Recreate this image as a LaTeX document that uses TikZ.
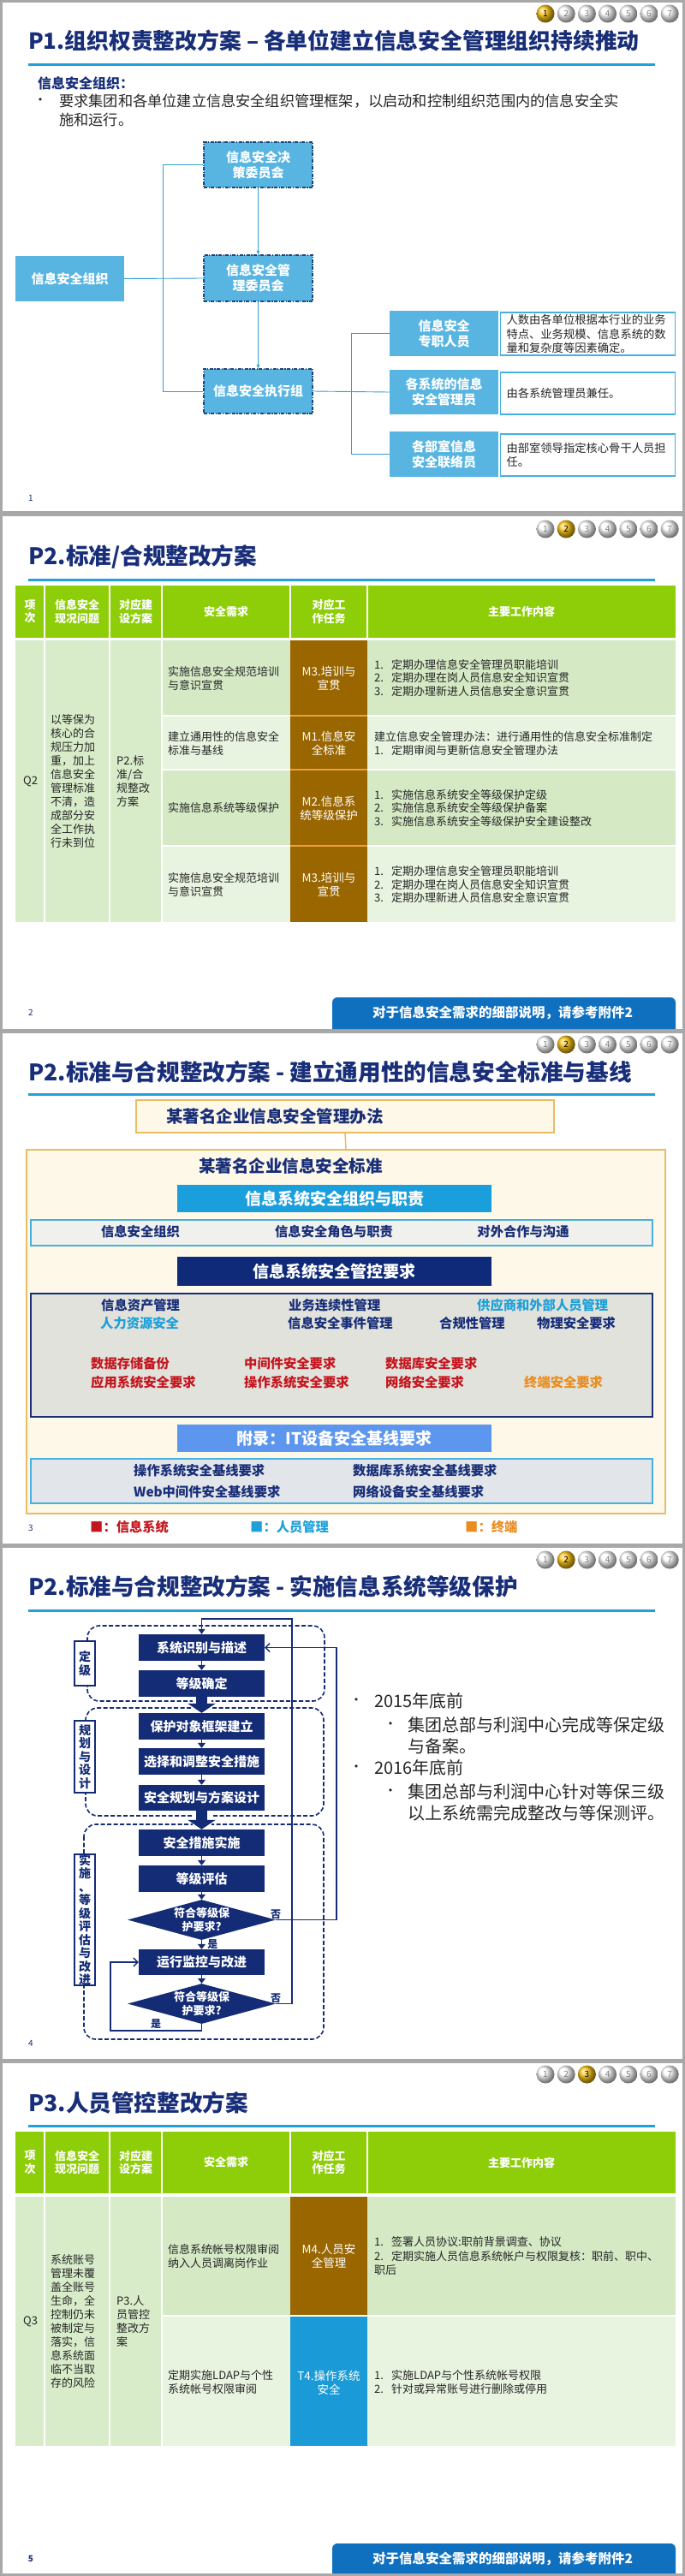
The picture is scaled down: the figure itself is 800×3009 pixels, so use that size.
\documentclass[tikz,border=0pt]{standalone}
\usepackage{fontspec}
\setmainfont{Noto Sans CJK SC}
\newfontfamily\symfont{DejaVu Sans}
\usetikzlibrary{arrows.meta,shapes.geometric}

\definecolor{navy}{RGB}{24,46,120}
\definecolor{flownavy}{RGB}{20,44,118}
\definecolor{accent}{RGB}{32,160,218}
\definecolor{sky}{RGB}{88,181,225}
\definecolor{dashblue}{RGB}{30,70,120}
\definecolor{connblue}{RGB}{50,160,200}
\definecolor{txt}{RGB}{38,38,38}
\definecolor{framegray}{RGB}{168,168,168}
\definecolor{dotgold}{RGB}{250,196,20}
\definecolor{tgreen}{RGB}{142,206,8}
\definecolor{tmerge}{RGB}{216,236,202}
\definecolor{tdark}{RGB}{212,233,196}
\definecolor{tlight}{RGB}{232,243,224}
\definecolor{taskbrown}{RGB}{153,102,0}
\definecolor{brownline}{RGB}{236,160,60}
\definecolor{taskblue}{RGB}{26,154,214}
\definecolor{banblue}{RGB}{16,112,192}
\definecolor{cream}{RGB}{253,248,232}
\definecolor{goldedge}{RGB}{234,188,100}
\definecolor{barblue}{RGB}{26,158,220}
\definecolor{barnavy}{RGB}{14,42,120}
\definecolor{barcorn}{RGB}{92,150,238}
\definecolor{ctrlgray}{RGB}{226,226,220}
\definecolor{basegray}{RGB}{226,229,234}
\definecolor{rowgray}{RGB}{240,240,236}
\definecolor{rowedge}{RGB}{70,176,224}
\definecolor{sysred}{RGB}{196,22,30}
\definecolor{ltblue}{RGB}{30,160,216}
\definecolor{termor}{RGB}{234,140,30}

\newcommand{\fsz}[2]{\fontsize{#1}{#2}\selectfont}

% page dots: #1 = y, #2 = active page, #3 = name prefix
\newcommand{\pagedots}[3]{%
  \foreach \k in {1,...,7}{
    \pgfmathsetmacro{\dx}{612.8+24.2*\k}
    \ifnum\k=#2\relax
      \node[dot, ball color=dotgold, text=black] (#3\k) at (\dx,#1) {\k};
    \else
      \node[dot, ball color=white, text=gray] (#3\k) at (\dx,#1) {\k};
    \fi
  }%
}

% table header: #1 = top, #2 = bottom, #3 = name prefix
\newcommand{\tablehead}[3]{%
  \fill[tgreen] (18,#1) rectangle (789,#2);
  \node[th] (#3a) at (35,{(#1+#2)/2}) {项\\次};
  \node[th] (#3b) at (90,{(#1+#2)/2}) {信息安全\\现况问题};
  \node[th] (#3c) at (158.5,{(#1+#2)/2}) {对应建\\设方案};
  \node[th] (#3d) at (264,{(#1+#2)/2}) {安全需求};
  \node[th] (#3e) at (384,{(#1+#2)/2}) {对应工\\作任务};
  \node[th] (#3f) at (609,{(#1+#2)/2}) {主要工作内容};
  \foreach \cx in {52,128,189,339,429}
    \draw[white, line width=2pt] (\cx,#1) -- (\cx,#2);
}

\begin{document}
\begin{tikzpicture}[x=1pt, y=-1pt,
  ttl/.style={anchor=west, inner sep=0pt, text=navy, font=\bfseries\fsz{26.6}{31}},
  pnum/.style={inner sep=0pt, text=navy, font=\fsz{10}{12}},
  dot/.style={circle, minimum size=21pt, inner sep=0pt, font=\fsz{10}{12}},
  sbox/.style={fill=sky, text=white, font=\bfseries\fsz{15}{18}, align=center, inner sep=0pt, minimum width=127pt},
  dashbd/.style={draw=dashblue, line width=1.2pt, dash pattern=on 4pt off 1.5pt on 1.2pt off 1.5pt},
  desc/.style={draw=rowedge, line width=1.5pt, fill=white, text width=190pt, inner xsep=7pt, inner ysep=0pt, align=left, text=txt, font=\fsz{13.3}{16.5}},
  conn/.style={draw=connblue, line width=0.9pt},
  th/.style={text=white, font=\bfseries\fsz{13}{15.5}, align=center, inner sep=0pt},
  tdl/.style={anchor=west, align=left, text=txt, font=\fsz{13}{16}, inner sep=0pt},
  task/.style={text=white, font=\fsz{13.5}{16}, align=center, inner sep=0pt},
  banner/.style={text=white, font=\bfseries\fsz{15.5}{18}, inner sep=0pt},
  bar/.style={text=white, font=\bfseries\fsz{19}{22}, minimum width=367pt, inner sep=0pt},
  ctl/.style={anchor=west, font=\bfseries\fsz{15.3}{18}, inner sep=0pt},
  flow/.style={fill=flownavy, text=white, font=\bfseries\fsz{15}{18}, minimum width=147pt, minimum height=31pt, inner sep=0pt},
  dia/.style={diamond, aspect=3.6, fill=flownavy, text=white, font=\bfseries\fsz{13}{16}, align=center, inner sep=0pt, minimum width=173pt, minimum height=47pt},
  grp/.style={draw=flownavy, line width=1.6pt, dash pattern=on 5pt off 2.5pt, rounded corners=14pt},
  stage/.style={draw=flownavy, line width=1.5pt, fill=white, text=flownavy, font=\bfseries\fsz{14}{15.5}, align=center, minimum width=24pt, inner sep=0pt},
  fa/.style={draw=flownavy, line width=1.5pt, -{Triangle[width=9pt,length=6pt]}},
  fb/.style={draw=flownavy, line width=1.3pt},
  yn/.style={text=flownavy, font=\bfseries\fsz{12}{14}, inner sep=1pt},
  dotmark/.style={inner sep=0pt, text=txt, font=\symfont\fsz{11}{12}},
  bl/.style={anchor=west, align=left, text=txt, font=\fsz{20}{25}, inner sep=0pt}]

  \useasboundingbox (0,0) rectangle (800,3009);
  \fill[framegray] (0,0) rectangle (800,3009);

  % slide 1: organisation
  \begin{scope}
    \fill[white] (3,3) rectangle (797,597);
    \pagedots{16}{1}{da}
    \node[ttl, font=\bfseries\fsz{25.8}{30}] (t1) at (33,48) {P1.组织权责整改方案 – 各单位建立信息安全管理组织持续推动};
    \fill[accent] (33,73.5) rectangle (765,76.5);
    \node[anchor=west, inner sep=0pt, text=navy, font=\bfseries\fsz{16}{20}] (h1) at (44,97) {信息安全组织：};
    \node[dotmark] (bu1) at (47,118) {•};
    \node[anchor=west, align=left, inner sep=0pt, text=txt, font=\fsz{17.2}{22}] (p1) at (69,129)
      {要求集团和各单位建立信息安全组织管理框架，以启动和控制组织范围内的信息安全实\\施和运行。};

    \node[sbox, dashbd, minimum height=53pt] (jc) at (301.5,192.5) {信息安全决\\策委员会};
    \node[sbox, dashbd, minimum height=54pt] (gl) at (301.5,325) {信息安全管\\理委员会};
    \node[sbox, dashbd, minimum height=52pt] (zx) at (301.5,457) {信息安全执行组};
    \node[sbox, minimum height=53pt] (org) at (81.5,325.5) {信息安全组织};
    \node[sbox, minimum height=53pt] (r1) at (518.5,389.5) {信息安全\\专职人员};
    \node[sbox, minimum height=52pt] (r2) at (518.5,458) {各系统的信息\\安全管理员};
    \node[sbox, minimum height=53pt] (r3) at (518.5,530.5) {各部室信息\\安全联络员};
    \node[desc, minimum height=50pt] (d1) at (686.5,390) {人数由各单位根据本行业的业务\\特点、业务规模、信息系统的数\\量和复杂度等因素确定。};
    \node[desc, minimum height=49pt] (d2) at (686.5,459.5) {由各系统管理员兼任。};
    \node[desc, minimum height=49pt] (d3) at (686.5,531.5) {由部室领导指定核心骨干人员担\\任。};

    \draw[conn] (org.east) -- (gl.west);
    \draw[conn] (jc.west) -- ++(-47,0) |- (zx.west);
    \draw[conn] (zx.east) -- (r2.west);
    \draw[conn] (r1.west) -- ++(-44,0) |- (r3.west);
    \draw[conn, -{Stealth[length=5pt,width=4pt]}] (jc) -- (gl);
    \draw[conn, -{Stealth[length=5pt,width=4pt]}] (gl) -- (zx);
    \node[pnum] (n1) at (36,582) {1};
  \end{scope}

  % slide 2: standards table
  \begin{scope}[yshift=-603pt]
    \fill[white] (3,0) rectangle (797,599);
    \pagedots{15}{2}{db}
    \node[ttl] (t2) at (33,47) {P2.标准/合规整改方案};
    \fill[accent] (33,72.5) rectangle (765,75.5);
    \tablehead{81}{142}{hb}
    \fill[tmerge] (18,145) rectangle (189,474);
    \fill[tdark] (189,145) rectangle (789,233);
    \fill[tlight] (189,233) rectangle (789,296);
    \fill[tdark] (189,296) rectangle (789,385);
    \fill[tlight] (189,385) rectangle (789,474);
    \fill[taskbrown] (339,145) rectangle (429,474);
    \foreach \ry in {233,296,385}{
      \draw[white, line width=1.2pt] (189,\ry) -- (339,\ry) (429,\ry) -- (789,\ry);
      \draw[brownline, line width=1.2pt] (339,\ry) -- (429,\ry);
    }
    \foreach \cx in {52,128,189}
      \draw[white, line width=2pt] (\cx,145) -- (\cx,474);

    \node[tdl] (qb) at (27,310) {Q2};
    \node[tdl] (ib) at (59,310) {以等保为\\核心的合\\规压力加\\重，加上\\信息安全\\管理标准\\不清，造\\成部分安\\全工作执\\行未到位};
    \node[tdl] (pb) at (136,310) {P2.标\\准/合\\规整改\\方案};
    \node[tdl] (rb1) at (196,189) {实施信息安全规范培训\\与意识宣贯};
    \node[tdl] (rb2) at (196,265.5) {建立通用性的信息安全\\标准与基线};
    \node[tdl] (rb3) at (196,341) {实施信息系统等级保护};
    \node[tdl] (rb4) at (196,430) {实施信息安全规范培训\\与意识宣贯};
    \node[task] (mb1) at (384,189) {M3.培训与\\宣贯};
    \node[task] (mb2) at (384,265.5) {M1.信息安\\全标准};
    \node[task] (mb3) at (384,341) {M2.信息系\\统等级保护};
    \node[task] (mb4) at (384,430) {M3.培训与\\宣贯};
    \node[tdl, font=\fsz{13}{15.5}] (wb1) at (437,189)
      {\makebox[20pt][l]{1.}定期办理信息安全管理员职能培训\\\makebox[20pt][l]{2.}定期办理在岗人员信息安全知识宣贯\\\makebox[20pt][l]{3.}定期办理新进人员信息安全意识宣贯};
    \node[tdl, font=\fsz{13}{15.5}] (wb2) at (437,265.5)
      {建立信息安全管理办法：进行通用性的信息安全标准制定\\\makebox[20pt][l]{1.}定期审阅与更新信息安全管理办法};
    \node[tdl, font=\fsz{13}{15.5}] (wb3) at (437,341)
      {\makebox[20pt][l]{1.}实施信息系统安全等级保护定级\\\makebox[20pt][l]{2.}实施信息系统安全等级保护备案\\\makebox[20pt][l]{3.}实施信息系统安全等级保护安全建设整改};
    \node[tdl, font=\fsz{13}{15.5}] (wb4) at (437,430)
      {\makebox[20pt][l]{1.}定期办理信息安全管理员职能培训\\\makebox[20pt][l]{2.}定期办理在岗人员信息安全知识宣贯\\\makebox[20pt][l]{3.}定期办理新进人员信息安全意识宣贯};

    \fill[banblue] (388,599) {[rounded corners=6pt] -- (388,562) -- (789,562)} -- (789,599) -- cycle;
    \node[banner] (bnb) at (587,580) {对于信息安全需求的细部说明，请参考附件2};
    \node[pnum] (n2) at (36,580) {2};
  \end{scope}

  % slide 3: standard and baseline
  \begin{scope}[yshift=-1207pt]
    \fill[white] (3,0) rectangle (797,596);
    \pagedots{13}{2}{dc}
    \node[ttl] (t3) at (33,45) {P2.标准与合规整改方案 - 建立通用性的信息安全标准与基线};
    \fill[accent] (33,69.5) rectangle (765,72.5);
    \node[draw=goldedge, fill=cream, line width=1.5pt, minimum width=488pt, minimum height=38pt, text width=418pt, inner xsep=35pt, align=left, text=navy, font=\bfseries\fsz{19.5}{22}] (law) at (403,97) {某著名企业信息安全管理办法};
    \node[draw=goldedge, fill=cream, line width=1.5pt, minimum width=746pt, minimum height=425pt, inner sep=0pt] (std) at (404,348.5) {};
    \draw[goldedge, line width=1.5pt] (law.south) -- (std.north);
    \node[anchor=west, inner sep=0pt, text=navy, font=\bfseries\fsz{19.5}{22}] (stdt) at (232,155) {某著名企业信息安全标准};
    \node[bar, fill=barblue, minimum height=32pt] (bs1) at (390.5,193) {信息系统安全组织与职责};
    \node[draw=rowedge, fill=rowgray, line width=1.5pt, minimum width=726pt, minimum height=30pt] (orgrow) at (399,233) {};
    \node[ctl, anchor=center, text=navy] (o1) at (164,232) {信息安全组织};
    \node[ctl, anchor=center, text=navy] (o2) at (390,232) {信息安全角色与职责};
    \node[ctl, anchor=center, text=navy] (o3) at (611,232) {对外合作与沟通};
    \node[bar, fill=barnavy, minimum height=34pt] (bs2) at (390.5,278) {信息系统安全管控要求};
    \node[draw=navy, fill=ctrlgray, line width=1.8pt, minimum width=726pt, minimum height=144pt] (ctrl) at (399,376) {};
    \node[ctl, text=navy] (c1) at (118,318) {信息资产管理};
    \node[ctl, text=ltblue] (c2) at (117,339) {人力资源安全};
    \node[ctl, text=navy] (c3) at (337,318) {业务连续性管理};
    \node[ctl, text=navy] (c4) at (336,339) {信息安全事件管理};
    \node[ctl, text=ltblue] (c5) at (557,318) {供应商和外部人员管理};
    \node[ctl, text=navy] (c6) at (513,339) {合规性管理};
    \node[ctl, text=navy] (c7) at (627,339) {物理安全要求};
    \node[ctl, text=sysred] (c8) at (106,386) {数据存储备份};
    \node[ctl, text=sysred] (c9) at (106,408) {应用系统安全要求};
    \node[ctl, text=sysred] (c10) at (285,386) {中间件安全要求};
    \node[ctl, text=sysred] (c11) at (285,408) {操作系统安全要求};
    \node[ctl, text=sysred] (c12) at (450,386) {数据库安全要求};
    \node[ctl, text=sysred] (c13) at (450,408) {网络安全要求};
    \node[ctl, text=termor] (c14) at (612,408) {终端安全要求};
    \node[bar, fill=barcorn, minimum height=32pt] (bs3) at (390.5,473) {附录：IT设备安全基线要求};
    \node[draw=rowedge, fill=basegray, line width=1.5pt, minimum width=726pt, minimum height=52pt] (base) at (399,523) {};
    \node[ctl, text=navy] (e1) at (156,511) {操作系统安全基线要求};
    \node[ctl, text=navy] (e2) at (156,536) {Web中间件安全基线要求};
    \node[ctl, text=navy] (e3) at (412,511) {数据库系统安全基线要求};
    \node[ctl, text=navy] (e4) at (412,536) {网络设备安全基线要求};
    \node[ctl, text=sysred] (lg1) at (105,577) {■：信息系统};
    \node[ctl, text=ltblue] (lg2) at (292,577) {■：人员管理};
    \node[ctl, text=termor] (lg3) at (543,577) {■：终端};
    \node[pnum] (n3) at (36,578) {3};
  \end{scope}

  % slide 4: grading protection flow
  \begin{scope}[yshift=-1808pt]
    \fill[white] (3,0) rectangle (797,597);
    \pagedots{14}{2}{dd}
    \node[ttl] (t4) at (33,45) {P2.标准与合规整改方案 - 实施信息系统等级保护};
    \fill[accent] (33,71.5) rectangle (765,74.5);
    \draw[grp] (102,91) rectangle (379,179);
    \draw[grp] (100,187) rectangle (378,313);
    \draw[grp] (98,323) rectangle (378,574);
    \node[stage, minimum height=52pt] (lv1) at (99,135) {定\\级};
    \node[stage, minimum height=84pt] (lv2) at (99,244) {规\\划\\与\\设\\计};
    \node[stage, minimum height=153pt] (lv3) at (99,434.5) {实\\施\\、\\等\\级\\评\\估\\与\\改\\进};

    \node[flow] (f1) at (235.5,116.5) {系统识别与描述};
    \node[flow] (f2) at (235.5,158.5) {等级确定};
    \node[flow] (f3) at (235.5,208.5) {保护对象框架建立};
    \node[flow] (f4) at (235.5,249.5) {选择和调整安全措施};
    \node[flow, minimum height=30pt] (f5) at (235.5,292) {安全规划与方案设计};
    \node[flow] (f6) at (235.5,344.5) {安全措施实施};
    \node[flow] (f7) at (235.5,386.5) {等级评估};
    \node[dia] (q1) at (235.5,434.5) {符合等级保\\护要求?};
    \node[flow, minimum height=30pt] (f8) at (235.5,484) {运行监控与改进};
    \node[dia] (q2) at (235.5,532.5) {符合等级保\\护要求?};

    \draw[fa] (f1) -- (f2);
    \draw[white, line width=22pt, shorten >=3pt] (f2) -- (f3);
    \draw[flownavy, line width=13pt, -{Triangle[width=32pt,length=11pt]}] (f2) -- (f3);
    \draw[fa] (f3) -- (f4);
    \draw[fa] (f4) -- (f5);
    \draw[white, line width=22pt, shorten >=3pt] (f5) -- (f6);
    \draw[flownavy, line width=13pt, -{Triangle[width=32pt,length=11pt]}] (f5) -- (f6);
    \draw[fa] (f6) -- (f7);
    \draw[fa] (f7) -- (q1);
    \draw[fa] (q1) -- node[yn, right, xshift=5pt] (yes1) {是} (f8);
    \draw[fa] (f8) -- (q2);

    \coordinate (tr) at (341,83);
    \coordinate (rr) at (393,116.5);
    \coordinate (lb) at (129,564);
    \draw[fb, -{Triangle[width=8pt,length=6pt]}] (q2.east) -| (tr) -| (f1.north);
    \draw[fb, -{Straight Barb[width=10pt,length=5pt]}] (q1.east) -| (rr) -- (f1.east);
    \draw[fb, -{Straight Barb[width=10pt,length=5pt]}] (q2.south) |- (lb) |- (f8.west);
    \node[yn, above] (no1) at (q1.east) {否};
    \node[yn, above] (no2) at (q2.east) {否};
    \node[yn] (yes2) at (182,556) {是};

    \node[dotmark] (bd1) at (416,179) {•};
    \node[bl] (by1) at (437,179) {2015年底前};
    \node[dotmark] (bd2) at (456,207) {•};
    \node[bl] (bt1) at (476,219.5) {集团总部与利润中心完成等保定级\\与备案。};
    \node[dotmark] (bd3) at (416,257) {•};
    \node[bl] (by2) at (437,257) {2016年底前};
    \node[dotmark] (bd4) at (456,285) {•};
    \node[bl] (bt2) at (476,297.5) {集团总部与利润中心针对等保三级\\以上系统需完成整改与等保测评。};
    \node[pnum] (n4) at (36,579) {4};
  \end{scope}

  % slide 5: personnel table
  \begin{scope}[yshift=-2410pt]
    \fill[white] (3,0) rectangle (797,596);
    \pagedots{13}{3}{de}
    \node[ttl] (t5) at (33,46) {P3.人员管控整改方案};
    \fill[accent] (33,71.5) rectangle (765,74.5);
    \tablehead{80}{152}{he}
    \fill[tmerge] (18,156) rectangle (189,447);
    \fill[tdark] (189,156) rectangle (789,295);
    \fill[tlight] (189,295) rectangle (789,447);
    \fill[taskbrown] (339,156) rectangle (429,295);
    \fill[taskblue] (339,295) rectangle (429,447);
    \draw[white, line width=1.2pt] (189,295) -- (789,295);
    \foreach \cx in {52,128,189}
      \draw[white, line width=2pt] (\cx,156) -- (\cx,447);

    \node[tdl] (qe) at (27,302) {Q3};
    \node[tdl] (ie) at (59,302) {系统账号\\管理未覆\\盖全账号\\生命，全\\控制仍未\\被制定与\\落实，信\\息系统面\\临不当取\\存的风险};
    \node[tdl] (pe) at (136,302) {P3.人\\员管控\\整改方\\案};
    \node[tdl] (re1) at (196,225.5) {信息系统帐号权限审阅\\纳入人员调离岗作业};
    \node[tdl] (re2) at (196,373) {定期实施LDAP与个性\\系统帐号权限审阅};
    \node[task] (me1) at (384,225.5) {M4.人员安\\全管理};
    \node[task] (me2) at (384,373) {T4.操作系统\\安全};
    \node[tdl, font=\fsz{13}{16.5}] (we1) at (437,225.5)
      {\makebox[20pt][l]{1.}签署人员协议:职前背景调查、协议\\\makebox[20pt][l]{2.}定期实施人员信息系统帐户与权限复核：职前、职中、\\职后};
    \node[tdl] (we2) at (437,373)
      {\makebox[20pt][l]{1.}实施LDAP与个性系统帐号权限\\\makebox[20pt][l]{2.}针对或异常账号进行删除或停用};

    \fill[banblue] (388,596) {[rounded corners=6pt] -- (388,561) -- (789,561)} -- (789,596) -- cycle;
    \node[banner] (bne) at (587,579) {对于信息安全需求的细部说明，请参考附件2};
    \node[pnum, font=\bfseries\fsz{10}{12}] (n5) at (36,579) {5};
  \end{scope}
\end{tikzpicture}
\end{document}
